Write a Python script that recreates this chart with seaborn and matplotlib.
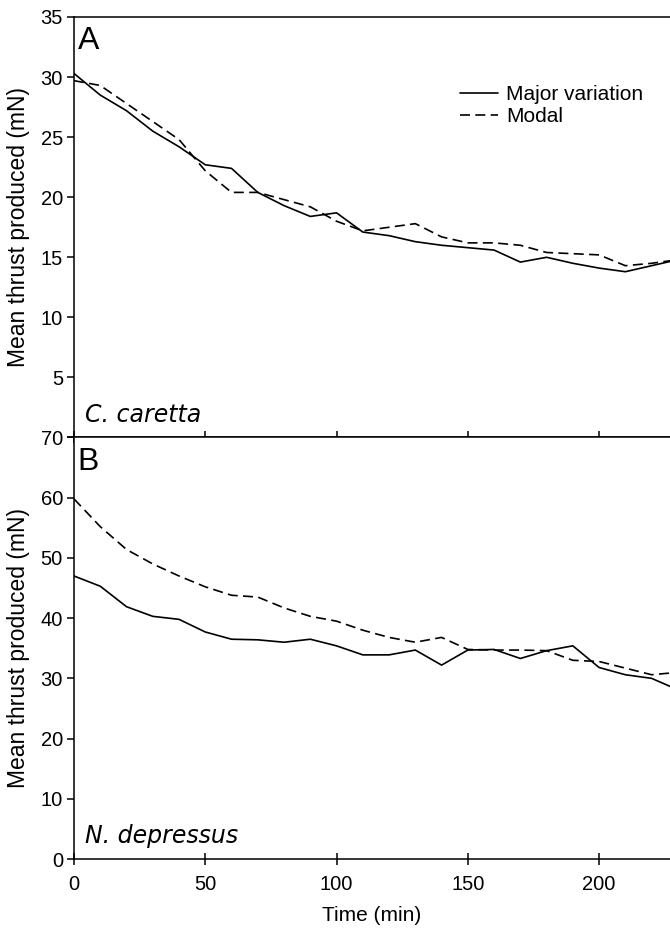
import numpy as np
import pandas as pd
import matplotlib
matplotlib.use("Agg")
import matplotlib.pyplot as plt
import seaborn as sns

# ---- data ----
time_min = [0, 10, 20, 30, 40, 50, 60, 70, 80, 90, 100, 110,
            120, 130, 140, 150, 160, 170, 180, 190, 200, 210, 220, 230]

caretta_major = [30.3, 28.5, 27.2, 25.5, 24.2, 22.7, 22.4, 20.4, 19.3, 18.4, 18.7, 17.1,
                 16.8, 16.3, 16.0, 15.8, 15.6, 14.6, 15.0, 14.5, 14.1, 13.8, 14.3, 14.8]
caretta_modal = [29.7, 29.3, 27.8, 26.3, 24.8, 22.2, 20.4, 20.4, 19.8, 19.2, 18.0, 17.2,
                 17.5, 17.8, 16.7, 16.2, 16.2, 16.0, 15.4, 15.3, 15.2, 14.3, 14.5, 14.8]

depressus_major = [47.0, 45.3, 41.9, 40.3, 39.8, 37.7, 36.5, 36.4, 36.0, 36.5, 35.4, 33.9,
                   33.9, 34.7, 32.2, 34.7, 34.8, 33.3, 34.6, 35.4, 31.8, 30.6, 30.0, 28.1]
depressus_modal = [59.8, 55.2, 51.4, 49.0, 47.0, 45.2, 43.8, 43.5, 41.7, 40.3, 39.5, 38.0,
                   36.8, 36.0, 36.8, 34.8, 34.7, 34.7, 34.6, 33.0, 32.8, 31.7, 30.6, 31.0]

series_names = ["Major variation", "Modal"]
panel_letters = ["A", "B"]
species = ["C. caretta", "N. depressus"]
top_yticks = [5, 10, 15, 20, 25, 30, 35]
bottom_yticks = [0, 10, 20, 30, 40, 50, 60, 70]
xticks = [0, 50, 100, 150, 200]
ylabel = "Mean thrust produced (mN)"
xlabel = "Time (min)"


def long_df(major, modal):
    return pd.DataFrame({
        "Time": time_min * 2,
        "Thrust": list(major) + list(modal),
        "Series": [series_names[0]] * len(time_min) + [series_names[1]] * len(time_min),
    })


sns.set_style("ticks")
plt.rcParams["font.family"] = ["Liberation Sans", "DejaVu Sans"]
plt.rcParams["text.color"] = "black"
plt.rcParams["axes.labelcolor"] = "black"
plt.rcParams["xtick.color"] = "black"
plt.rcParams["ytick.color"] = "black"

fig = plt.figure(figsize=(6.7, 9.3), dpi=100)
W, H = 670.0, 930.0
left_px, right_px = 74.0, 670.0
ax_top = fig.add_axes([left_px / W, 1 - 437.5 / H, (right_px - left_px) / W, 420.5 / H])
ax_bot = fig.add_axes([left_px / W, 1 - 859.0 / H, (right_px - left_px) / W, 421.5 / H])

dash_map = {series_names[0]: "", series_names[1]: (6, 3.2)}

for ax, major, modal in [(ax_top, caretta_major, caretta_modal),
                         (ax_bot, depressus_major, depressus_modal)]:
    sns.lineplot(data=long_df(major, modal), x="Time", y="Thrust", style="Series",
                 dashes=dash_map, color="black", linewidth=1.2, ax=ax,
                 legend=(ax is ax_top))

for ax in (ax_top, ax_bot):
    ax.set_xlim(0, 227)
    ax.set_xticks(xticks)
    ax.spines["right"].set_visible(False)
    for s in ("left", "bottom", "top"):
        ax.spines[s].set_linewidth(1.1)
        ax.spines[s].set_color("black")
    ax.tick_params(axis="y", direction="out", length=5, width=1.1, pad=3,
                   labelsize=14.5, colors="black")
    ax.tick_params(axis="x", direction="inout", length=9, width=1.1, pad=7,
                   labelsize=14.5, colors="black")

# top panel
ax_top.set_ylim(0, 35)
ax_top.set_yticks([0] + top_yticks)
ax_top.set_yticklabels([""] + [str(v) for v in top_yticks])
ax_top.set_xticklabels([])
ax_top.set_xlabel("")
ax_top.set_ylabel(ylabel, fontsize=16.5)
ax_top.yaxis.set_label_coords(-0.074, 0.5)

# bottom panel
ax_bot.set_ylim(0, 70)
ax_bot.set_yticks(bottom_yticks)
ax_bot.set_yticklabels([str(v) for v in bottom_yticks])
ax_bot.set_xticklabels([str(v) for v in xticks])
ax_bot.set_ylabel(ylabel, fontsize=16.5)
ax_bot.yaxis.set_label_coords(-0.074, 0.5)
ax_bot.set_xlabel(xlabel, fontsize=15, labelpad=9)

# legend
handles, labels = ax_top.get_legend_handles_labels()
ax_top.legend(handles, labels, loc="upper left", bbox_to_anchor=(0.648, 0.838),
              frameon=False, fontsize=15, borderpad=0, borderaxespad=0,
              handlelength=1.8, handletextpad=0.4, labelspacing=0.15)

# panel letters and species names
for ax, letter, sp in [(ax_top, panel_letters[0], species[0]),
                       (ax_bot, panel_letters[1], species[1])]:
    ax.text(0.006, 0.978, letter, transform=ax.transAxes, fontsize=23,
            ha="left", va="top", color="black")
    ax.text(0.018, 0.038, sp, transform=ax.transAxes, fontsize=17,
            ha="left", va="baseline", style="italic", color="black",
            family=["DejaVu Sans"])

fig.savefig("out.png", dpi=100)
